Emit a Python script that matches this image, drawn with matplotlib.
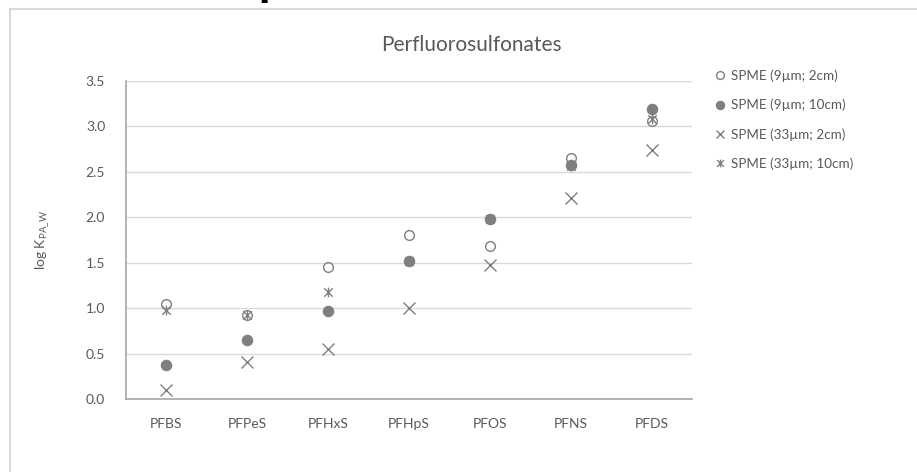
import matplotlib
matplotlib.use("Agg")
import matplotlib.pyplot as plt
from matplotlib.path import Path
from matplotlib.patches import Rectangle
import numpy as np

categories = ["PFBS", "PFPeS", "PFHxS", "PFHpS", "PFOS", "PFNS", "PFDS"]
spme_9_2 = [1.05, 0.92, 1.45, 1.80, 1.68, 2.65, 3.06]
spme_9_10 = [0.37, 0.65, 0.97, 1.52, 1.98, 2.58, 3.19]
spme_33_2 = [0.10, 0.41, 0.55, 1.00, 1.47, 2.21, 2.74]
spme_33_10 = [0.98, 0.92, 1.18, 1.52, 1.98, 2.56, 3.08]
labels = ["SPME (9µm; 2cm)", "SPME (9µm; 10cm)", "SPME (33µm; 2cm)", "SPME (33µm; 10cm)"]
yticks = [0.0, 0.5, 1.0, 1.5, 2.0, 2.5, 3.0, 3.5]

plt.rcParams['font.family'] = ['Lato', 'DejaVu Sans']

W, H = 917, 472
fig = plt.figure(figsize=(W / 100, H / 100), dpi=100)
fig.patch.set_facecolor('white')

# chart frame (partially cut off)
fig.patches.append(Rectangle((10 / W, -0.1), 1.2, 1 - 9 / H + 0.1, transform=fig.transFigure,
                             fill=False, edgecolor='#d9d9d9', linewidth=1.5))

ax = fig.add_axes([126 / W, 1 - 399 / H, (692 - 126) / W, (399 - 81) / H])
x = np.arange(len(categories))
grey = '#7f7f7f'

star = Path([(-1, -1), (1, 1), (-1, 1), (1, -1), (0, -1.15), (0, 1.15)],
            [Path.MOVETO, Path.LINETO, Path.MOVETO, Path.LINETO, Path.MOVETO, Path.LINETO])

ax.plot(x, spme_9_2, linestyle='none', marker='o', markersize=7, markerfacecolor='none',
        markeredgecolor=grey, markeredgewidth=1.0, label=labels[0], zorder=3)
ax.plot(x, spme_9_10, linestyle='none', marker='o', markersize=7.5, markerfacecolor=grey,
        markeredgecolor=grey, markeredgewidth=0.8, label=labels[1], zorder=3)
ax.plot(x, spme_33_2, linestyle='none', marker='x', markersize=8, markeredgecolor=grey,
        markeredgewidth=1.0, label=labels[2], zorder=3)
ax.plot(x, spme_33_10, linestyle='none', marker=star, markersize=7, markeredgecolor=grey,
        markerfacecolor='none', markeredgewidth=1.0, label=labels[3], zorder=3)

ax.set_xlim(-0.5, len(categories) - 0.5)
ax.set_ylim(0, 3.5)
ax.set_yticks(yticks)
ax.set_yticklabels([f"{v:.1f}" for v in yticks])
ax.set_xticks(x)
ax.set_xticklabels(categories)
ax.grid(axis='y', color='#d9d9d9', linewidth=1.0)
ax.set_axisbelow(True)
for s in ['top', 'right']:
    ax.spines[s].set_visible(False)
for s in ['left', 'bottom']:
    ax.spines[s].set_color('#a6a6a6')
    ax.spines[s].set_linewidth(1.2)
ax.tick_params(axis='both', length=0, labelsize=10, colors='#595959')
ax.tick_params(axis='y', pad=15)
ax.tick_params(axis='x', pad=14)

ax.set_ylabel(r'log K$_{\mathregular{PA\_W}}$', fontsize=10, color='#595959', labelpad=24)

fig.text(471 / W, 1 - 45 / H, "Perfluorosulfonates", ha='center', va='center',
         fontsize=15, color='#595959')

leg = fig.legend(loc='upper left', bbox_to_anchor=(708 / W, 1 - 64 / H), frameon=False,
                 fontsize=9.7, labelcolor='#595959', handletextpad=0.3, handlelength=1.0,
                 labelspacing=1.25, borderaxespad=0, markerscale=0.8)

# cut-off glyph at top edge
fig.text(270 / W, 1 + 4 / H, "p", ha='center', va='baseline', fontsize=24,
         fontweight='bold', color='black', family='DejaVu Sans')

fig.savefig("out.png", dpi=100, facecolor='white')
